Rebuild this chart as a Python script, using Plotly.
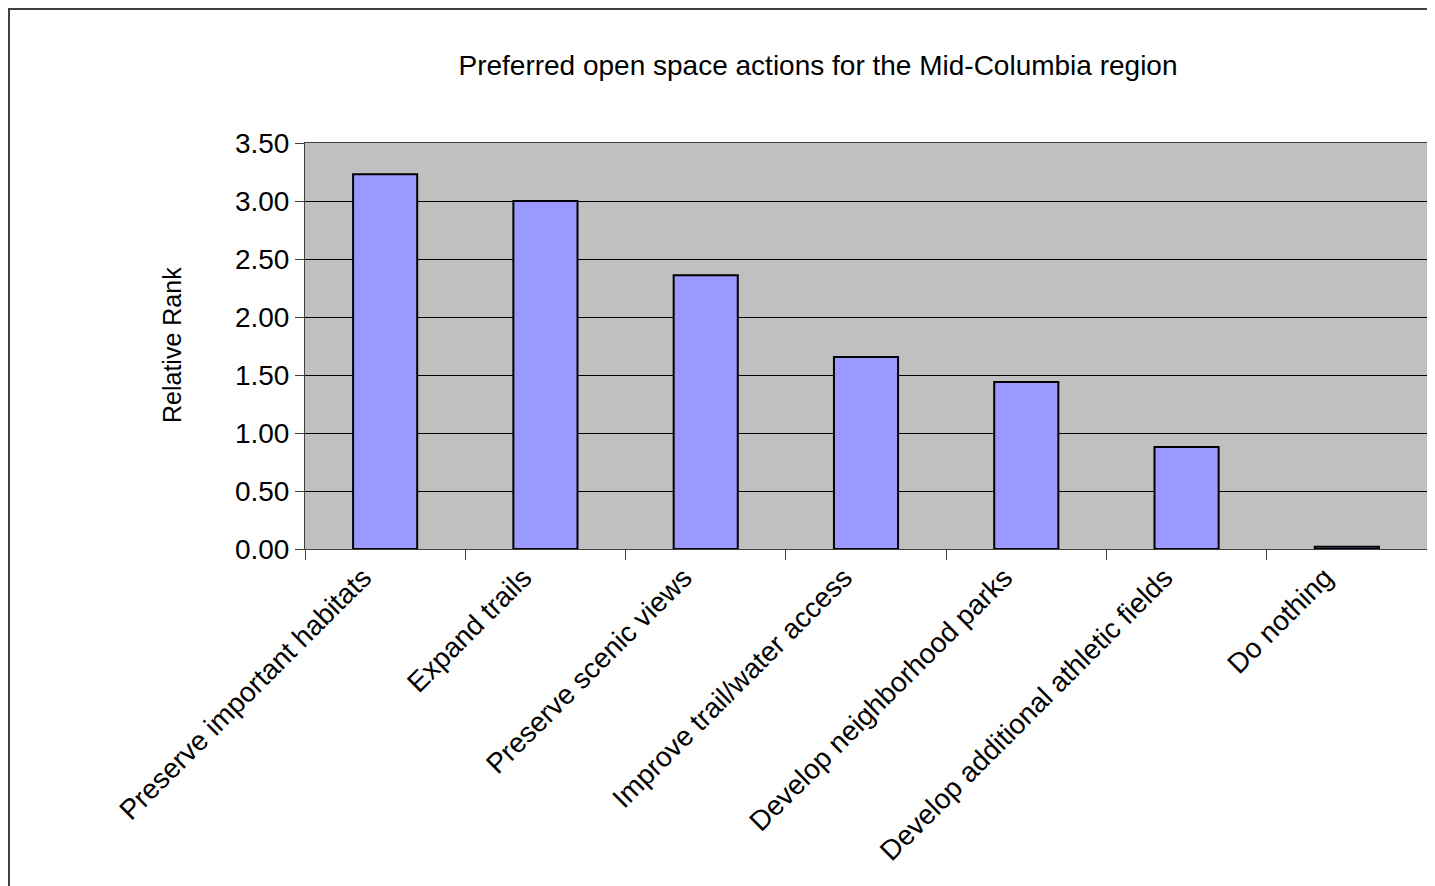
import plotly.graph_objects as go

categories = [
    "Preserve important habitats",
    "Expand trails",
    "Preserve scenic views",
    "Improve trail/water access",
    "Develop neighborhood parks",
    "Develop additional athletic fields",
    "Do nothing",
]
values = [3.23, 3.00, 2.36, 1.655, 1.44, 0.88, 0.02]
y_ticks = [0, 0.5, 1.0, 1.5, 2.0, 2.5, 3.0, 3.5]
y_tick_labels = ["0.00", "0.50", "1.00", "1.50", "2.00", "2.50", "3.00", "3.50"]

FONT = "Liberation Sans, Arial, sans-serif"

# page body has an 8px margin; figure coordinates are offset by that
W, H = 1435, 886
ML, MR, MT, MB = 297, 16, 135, 345
PW = W - ML - MR
PH = H - MT - MB

fig = go.Figure(
    go.Bar(
        x=categories,
        y=values,
        marker=dict(color="#9999FF", line=dict(color="black", width=2)),
    )
)

fig.update_layout(
    width=W,
    height=H,
    paper_bgcolor="white",
    plot_bgcolor="#C0C0C0",
    margin=dict(l=ML, r=MR, t=MT, b=MB),
    bargap=0.6,
    showlegend=False,
    font=dict(family=FONT, size=27, color="black"),
    title=dict(
        text="Preferred open space actions for the Mid-Columbia region",
        x=810 / W,
        xanchor="center",
        y=1 - 57 / H,
        yanchor="middle",
        font=dict(family=FONT, size=28, color="black"),
    ),
)

fig.update_yaxes(
    range=[0, 3.5],
    tickvals=y_ticks,
    ticktext=y_tick_labels,
    showgrid=True,
    gridcolor="#000000",
    gridwidth=1,
    ticks="outside",
    ticklen=9,
    tickcolor="#404040",
    showline=True,
    linecolor="#404040",
    linewidth=1,
    mirror=True,
    zeroline=False,
    tickfont=dict(family=FONT, size=28),
)

fig.update_xaxes(
    tickangle=-45,
    ticks="outside",
    tickson="boundaries",
    ticklen=10,
    tickcolor="#404040",
    showline=True,
    linecolor="#404040",
    linewidth=1,
    mirror=True,
    ticklabelshift=-22,
    tickfont=dict(family=FONT, size=28),
)

# y-axis title as annotation for precise placement
fig.add_annotation(
    text="Relative Rank",
    textangle=-90,
    xref="paper", yref="paper",
    x=(164 - ML) / PW, y=(541 - 337) / PH,
    xanchor="center", yanchor="middle",
    showarrow=False,
    font=dict(family=FONT, size=25, color="black"),
)

# outer chart frame border
fig.add_shape(
    type="rect",
    xref="paper", yref="paper",
    x0=(1 - ML) / PW, x1=1.2,
    y0=-1.0, y1=1 + (MT - 1) / PH,
    line=dict(color="#404040", width=2),
    fillcolor="rgba(0,0,0,0)",
    layer="below",
)

fig.write_html("out.html")
